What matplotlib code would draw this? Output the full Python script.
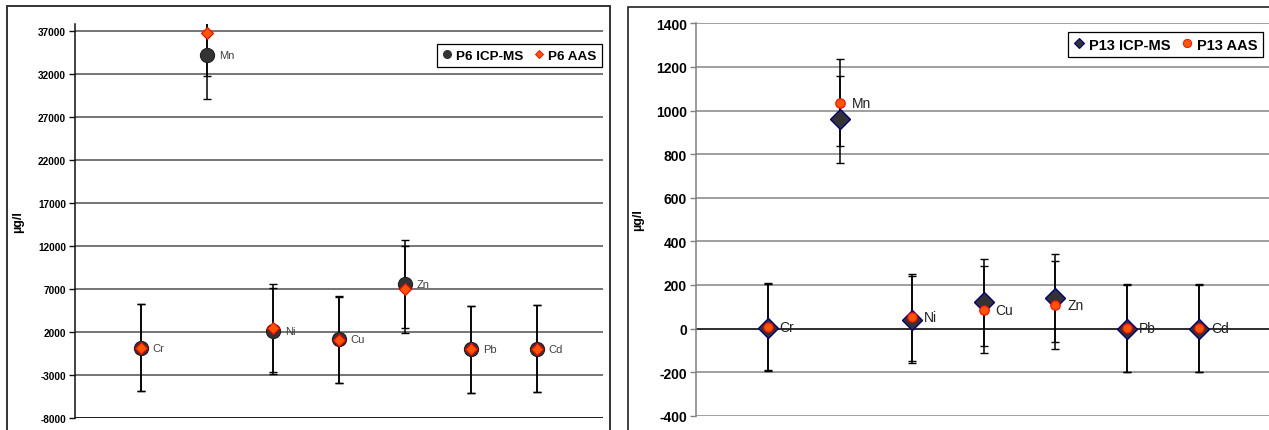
import matplotlib
matplotlib.use("Agg")
import matplotlib.pyplot as plt
from matplotlib.lines import Line2D
from matplotlib.patches import Rectangle

plt.rcParams['font.family'] = ['Liberation Sans', 'DejaVu Sans']
plt.rcParams['axes.unicode_minus'] = False

# Elements measured at both sampling points
elements = ['Cr', 'Mn', 'Ni', 'Cu', 'Zn', 'Pb', 'Cd']
positions = [1, 2, 3, 4, 5, 6, 7]

# Sampling point P6 (µg/l)
p6_icp = [200, 34200, 2100, 1200, 7600, 0, 100]
p6_icp_err = [5050, 5050, 5000, 5050, 5100, 5050, 5050]
p6_aas = [200, 36800, 2500, 1100, 7000, 0, 100]
p6_aas_err = [5050, 5050, 5100, 5050, 5050, 5050, 5050]
p6_ticks = [-8000, -3000, 2000, 7000, 12000, 17000, 22000, 27000, 32000, 37000]

# Sampling point P13 (µg/l)
p13_icp = [3, 960, 40, 120, 140, 0, 0]
p13_icp_err = [200, 200, 200, 200, 200, 200, 200]
p13_aas = [8, 1035, 52, 86, 108, 2, 2]
p13_aas_err = [200, 200, 200, 200, 200, 200, 200]
p13_ticks = [-400, -200, 0, 200, 400, 600, 800, 1000, 1200, 1400]

W, H = 1269, 431
fig = plt.figure(figsize=(W / 100, H / 100), dpi=100)


def fx(px):
    return px / W


def fy(py):
    return 1 - py / H


# Chart frames
fig.patches.append(Rectangle((fx(7), fy(440)), fx(603), fy(7) - fy(440),
                             transform=fig.transFigure, fill=False,
                             edgecolor='#333333', lw=1.4))
fig.patches.append(Rectangle((fx(628), fy(440)), fx(700), fy(8) - fy(440),
                             transform=fig.transFigure, fill=False,
                             edgecolor='#222222', lw=1.2))

ORANGE = '#FF5500'
DARK = '#333333'


def style_axes(ax, ticks, ylim, grid_color, axis_color, tick_size):
    ax.set_xlim(0, 8)
    ax.set_ylim(*ylim)
    ax.set_yticks(ticks)
    ax.set_xticks([])
    for t in ticks:
        ax.axhline(t, color=grid_color, lw=1.1, zorder=1)
    for s in ['top', 'right', 'bottom']:
        ax.spines[s].set_visible(False)
    ax.spines['left'].set_color(axis_color)
    ax.spines['left'].set_linewidth(1.1)
    ax.tick_params(axis='y', direction='out', length=4.5, width=1,
                   color=axis_color, pad=2, labelsize=tick_size)
    for lab in ax.get_yticklabels():
        lab.set_fontweight('bold')


# ---------------- P6 ----------------
ax1 = fig.add_axes([fx(75), fy(419.3), fx(603 - 75), fy(25.4) - fy(419.3)])
style_axes(ax1, p6_ticks, (-8000, 37800), '#505050', '#111111', 7.2)
ax1.axhline(-8000, color='#111111', lw=1.2, zorder=1)

ax1.errorbar(positions, p6_icp, yerr=p6_icp_err, fmt='none', ecolor='black',
             elinewidth=1.1, capsize=2.6, capthick=1, zorder=2)
ax1.errorbar(positions, p6_aas, yerr=p6_aas_err, fmt='none', ecolor='black',
             elinewidth=1.1, capsize=2.6, capthick=1, zorder=2)
ax1.plot(positions, p6_icp, 'o', ms=10.2, mfc=DARK, mec='#222222', mew=0.8,
         ls='none', zorder=3)
ax1.plot(positions, p6_aas, 'D', ms=6.2, mfc=ORANGE, mec='#FF0000', mew=0.8,
         ls='none', zorder=4)
for x, y, name in zip(positions, p6_icp, elements):
    ax1.annotate(name, (x, y), xytext=(8.5, 0), textcoords='offset points',
                 ha='left', va='center', fontsize=8, color='#404040',
                 zorder=5)

ax1.set_ylabel('µg/l', fontsize=9, fontweight='bold')
ax1.yaxis.set_label_coords(fx(24 - 75) / fx(528), 0.5)

h6 = [Line2D([], [], marker='o', ls='none', ms=5.5, mfc=DARK, mec=DARK),
      Line2D([], [], marker='D', ls='none', ms=4.5, mfc=ORANGE, mec='#FF0000',
             mew=0.6)]
leg1 = fig.legend(h6, ['P6 ICP-MS', 'P6 AAS'], ncol=2, loc='upper right',
                  bbox_to_anchor=(fx(602), fy(44.7)),
                  prop={'weight': 'bold', 'size': 9.7}, frameon=True,
                  fancybox=False, edgecolor='black', framealpha=1,
                  borderpad=0.42, handlelength=0.7, handletextpad=0.35,
                  columnspacing=0.75, borderaxespad=0)
leg1.get_frame().set_linewidth(0.9)

# ---------------- P13 ----------------
ax2 = fig.add_axes([fx(696), fy(416.7), fx(1271 - 696), fy(24.3) - fy(416.7)])
style_axes(ax2, p13_ticks, (-400, 1400), '#858585', '#808080', 10)
ax2.axhline(0, color='#111111', lw=1.1, zorder=1)

ax2.errorbar(positions, p13_icp, yerr=p13_icp_err, fmt='none', ecolor='black',
             elinewidth=1.1, capsize=2.6, capthick=1, zorder=2)
ax2.errorbar(positions, p13_aas, yerr=p13_aas_err, fmt='none', ecolor='black',
             elinewidth=1.1, capsize=2.6, capthick=1, zorder=2)
ax2.plot(positions, p13_icp, 'D', ms=10.5, mfc=DARK, mec='#000080', mew=1.0,
         ls='none', zorder=3)
ax2.plot(positions, p13_aas, 'o', ms=6.8, mfc=ORANGE, mec='#FF0000', mew=0.8,
         ls='none', zorder=4)
for x, y, name in zip(positions, p13_aas, elements):
    ax2.annotate(name, (x, y), xytext=(8.5, 0), textcoords='offset points',
                 ha='left', va='center', fontsize=10, color='#222222',
                 zorder=5)

ax2.set_ylabel('µg/l', fontsize=9, fontweight='bold')
ax2.yaxis.set_label_coords(fx(644 - 696) / fx(575), 0.5)

h13 = [Line2D([], [], marker='D', ls='none', ms=4.6, mfc=DARK, mec='#000080',
              mew=0.8),
       Line2D([], [], marker='o', ls='none', ms=6, mfc=ORANGE, mec='#FF0000',
              mew=0.6)]
leg2 = fig.legend(h13, ['P13 ICP-MS', 'P13 AAS'], ncol=2, loc='upper right',
                  bbox_to_anchor=(fx(1263), fy(33)),
                  prop={'weight': 'bold', 'size': 10.5}, frameon=True,
                  fancybox=False, edgecolor='black', framealpha=1,
                  borderpad=0.38, handlelength=0.7, handletextpad=0.35,
                  columnspacing=0.75, borderaxespad=0)
leg2.get_frame().set_linewidth(0.9)

fig.savefig('out.png', dpi=100)
